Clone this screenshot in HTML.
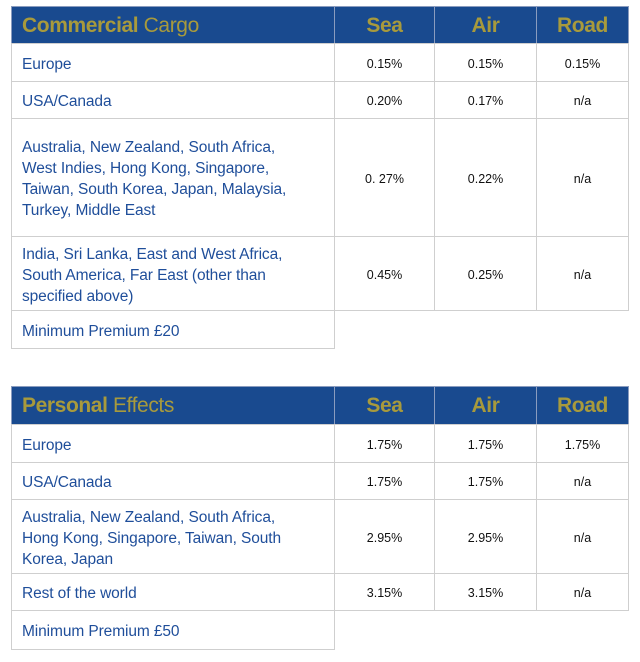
<!DOCTYPE html>
<html><head><meta charset="utf-8"><style>
body{margin:0;width:640px;height:662px;background:#fff;position:relative;font-family:"Liberation Sans",sans-serif;overflow:hidden}
.c{position:absolute;box-sizing:border-box;border:1px solid #cfcfcf;}
.h{background:#194a8f;border-color:#8a9cbf;color:#a89a3c;font-size:21px;display:flex;align-items:center;justify-content:center;letter-spacing:-0.4px;padding-top:1px}
.h.l{justify-content:flex-start;padding-left:10px}
.t{color:#1f4e9a;font-size:15.5px;line-height:21px;display:flex;align-items:center;padding-left:10px;padding-top:3px;white-space:nowrap;letter-spacing:-0.1px}
.v{font-size:12.5px;color:#111;display:flex;align-items:center;justify-content:center;padding-top:2px}
</style></head><body>
<div class="c h l" style="left:11px;top:6px;width:324px;height:38px"><b>Commercial</b>&nbsp;Cargo</div>
<div class="c h" style="left:334px;top:6px;width:101px;height:38px"><b>Sea</b></div>
<div class="c h" style="left:434px;top:6px;width:103px;height:38px"><b>Air</b></div>
<div class="c h" style="left:536px;top:6px;width:93px;height:38px"><b>Road</b></div>

<div class="c t" style="left:11px;top:43px;width:324px;height:39px">Europe</div>
<div class="c v" style="left:334px;top:43px;width:101px;height:39px">0.15%</div>
<div class="c v" style="left:434px;top:43px;width:103px;height:39px">0.15%</div>
<div class="c v" style="left:536px;top:43px;width:93px;height:39px">0.15%</div>

<div class="c t" style="left:11px;top:81px;width:324px;height:38px">USA/Canada</div>
<div class="c v" style="left:334px;top:81px;width:101px;height:38px">0.20%</div>
<div class="c v" style="left:434px;top:81px;width:103px;height:38px">0.17%</div>
<div class="c v" style="left:536px;top:81px;width:93px;height:38px">n/a</div>

<div class="c t" style="left:11px;top:118px;width:324px;height:119px">Australia, New Zealand, South Africa,<br>West Indies, Hong Kong, Singapore,<br>Taiwan, South Korea, Japan, Malaysia,<br>Turkey, Middle East</div>
<div class="c v" style="left:334px;top:118px;width:101px;height:119px">0. 27%</div>
<div class="c v" style="left:434px;top:118px;width:103px;height:119px">0.22%</div>
<div class="c v" style="left:536px;top:118px;width:93px;height:119px">n/a</div>

<div class="c t" style="left:11px;top:236px;width:324px;height:75px">India, Sri Lanka, East and West Africa,<br>South America, Far East (other than<br>specified above)</div>
<div class="c v" style="left:334px;top:236px;width:101px;height:75px">0.45%</div>
<div class="c v" style="left:434px;top:236px;width:103px;height:75px">0.25%</div>
<div class="c v" style="left:536px;top:236px;width:93px;height:75px">n/a</div>

<div class="c t" style="left:11px;top:310px;width:324px;height:39px">Minimum Premium £20</div>

<div class="c h l" style="left:11px;top:386px;width:324px;height:39px"><b>Personal</b>&nbsp;Effects</div>
<div class="c h" style="left:334px;top:386px;width:101px;height:39px"><b>Sea</b></div>
<div class="c h" style="left:434px;top:386px;width:103px;height:39px"><b>Air</b></div>
<div class="c h" style="left:536px;top:386px;width:93px;height:39px"><b>Road</b></div>

<div class="c t" style="left:11px;top:424px;width:324px;height:39px">Europe</div>
<div class="c v" style="left:334px;top:424px;width:101px;height:39px">1.75%</div>
<div class="c v" style="left:434px;top:424px;width:103px;height:39px">1.75%</div>
<div class="c v" style="left:536px;top:424px;width:93px;height:39px">1.75%</div>

<div class="c t" style="left:11px;top:462px;width:324px;height:38px">USA/Canada</div>
<div class="c v" style="left:334px;top:462px;width:101px;height:38px">1.75%</div>
<div class="c v" style="left:434px;top:462px;width:103px;height:38px">1.75%</div>
<div class="c v" style="left:536px;top:462px;width:93px;height:38px">n/a</div>

<div class="c t" style="left:11px;top:499px;width:324px;height:75px">Australia, New Zealand, South Africa,<br>Hong Kong, Singapore, Taiwan, South<br>Korea, Japan</div>
<div class="c v" style="left:334px;top:499px;width:101px;height:75px">2.95%</div>
<div class="c v" style="left:434px;top:499px;width:103px;height:75px">2.95%</div>
<div class="c v" style="left:536px;top:499px;width:93px;height:75px">n/a</div>

<div class="c t" style="left:11px;top:573px;width:324px;height:38px">Rest of the world</div>
<div class="c v" style="left:334px;top:573px;width:101px;height:38px">3.15%</div>
<div class="c v" style="left:434px;top:573px;width:103px;height:38px">3.15%</div>
<div class="c v" style="left:536px;top:573px;width:93px;height:38px">n/a</div>

<div class="c t" style="left:11px;top:610px;width:324px;height:40px">Minimum Premium £50</div>
</body></html>
